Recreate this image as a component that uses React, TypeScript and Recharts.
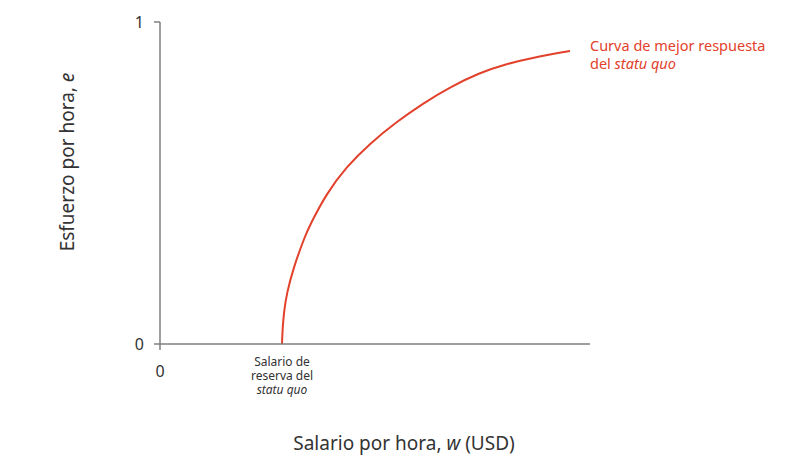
import { LineChart, Line, XAxis, YAxis, ReferenceDot, Label } from 'recharts';

const wage = [6.1, 6.13, 6.2, 6.33, 6.67, 7.25, 7.5, 8.33, 9.33, 10.5, 11.83, 13.17, 14.5, 16.0, 17.33, 18.67, 20.5];
const effort = [0, 0.05, 0.1, 0.155, 0.237, 0.335, 0.37, 0.468, 0.551, 0.623, 0.69, 0.748, 0.798, 0.843, 0.87, 0.89, 0.91];
const xTicks = [0, 6.1];
const yTicks = [0, 1];
const reserveLabel = ['Salario de', 'reserva del', 'statu quo'];

const data = wage.map((w, i) => ({ w, e: effort[i] }));

const FONT = '"Noto Sans", "Open Sans", sans-serif';
const RED = '#e2412b';
const AXIS = '#7f7f7f';
const TEXT = '#333333';

const XTick = (props: any) => {
  const { x, y, payload } = props;
  if (payload.value === 0) {
    return (
      <g>
        <line x1={x} y1={y - 8} x2={x} y2={y - 2} stroke={AXIS} strokeWidth={1.5} />
        <text x={x} y={y + 25} textAnchor="middle" fontSize={16} fill={TEXT} fontFamily={FONT}>0</text>
      </g>
    );
  }
  return (
    <g fontSize={12} fill={TEXT} fontFamily={FONT}>
      <text x={x} y={y + 14} textAnchor="middle">{reserveLabel[0]}</text>
      <text x={x} y={y + 28} textAnchor="middle">{reserveLabel[1]}</text>
      <text x={x} y={y + 42} textAnchor="middle" fontStyle="italic">{reserveLabel[2]}</text>
    </g>
  );
};

const XTitle = (props: any) => {
  const { viewBox } = props;
  const cx = viewBox.x + viewBox.width / 2 + 29;
  return (
    <text x={cx} y={450} textAnchor="middle" fontSize={19} fill={TEXT} fontFamily={FONT}>
      Salario por hora, <tspan fontStyle="italic">w</tspan> (USD)
    </text>
  );
};

const YTitle = () => {
  const cx = 74;
  const cy = 162;
  return (
    <text
      x={cx}
      y={cy}
      transform={`rotate(-90 ${cx} ${cy})`}
      textAnchor="middle"
      fontSize={19}
      fill={TEXT}
      fontFamily={FONT}
    >
      Esfuerzo por hora, <tspan fontStyle="italic">e</tspan>
    </text>
  );
};

const CurveLabel = (props: any) => {
  const { viewBox } = props;
  const x = viewBox.x + 20;
  const y = viewBox.y;
  return (
    <g fontSize={14.5} fill={RED} fontFamily={FONT}>
      <text x={x} y={y}>Curva de mejor respuesta</text>
      <text x={x} y={y + 18}>
        del <tspan fontStyle="italic">statu quo</tspan>
      </text>
    </g>
  );
};

export default function App() {
  return (
    <div style={{ position: 'absolute', left: 0, top: 0, width: 810, height: 472, background: '#fff' }}>
      <LineChart
        width={810}
        height={472}
        data={data}
        margin={{ top: 22, right: 220, bottom: 0, left: 0 }}
      >
        <XAxis
          dataKey="w"
          type="number"
          domain={[0, 21.5]}
          ticks={xTicks}
          tick={<XTick />}
          tickLine={false}
          stroke={AXIS}
          strokeWidth={1.5}
          height={128}
        >
          <Label content={<XTitle />} />
        </XAxis>
        <YAxis
          type="number"
          domain={[0, 1]}
          ticks={yTicks}
          tickSize={6}
          tickMargin={10}
          stroke={AXIS}
          strokeWidth={1.5}
          width={160}
          tick={{ fontSize: 16, fill: TEXT, fontFamily: FONT }}
        >
          <Label content={<YTitle />} />
        </YAxis>
        <Line
          dataKey="e"
          type="basis"
          stroke={RED}
          strokeWidth={2}
          dot={false}
          isAnimationActive={false}
        />
        <ReferenceDot
          x={wage[wage.length - 1]}
          y={effort[effort.length - 1]}
          r={0}
          fill="none"
          stroke="none"
          label={<CurveLabel />}
        />
      </LineChart>
    </div>
  );
}
